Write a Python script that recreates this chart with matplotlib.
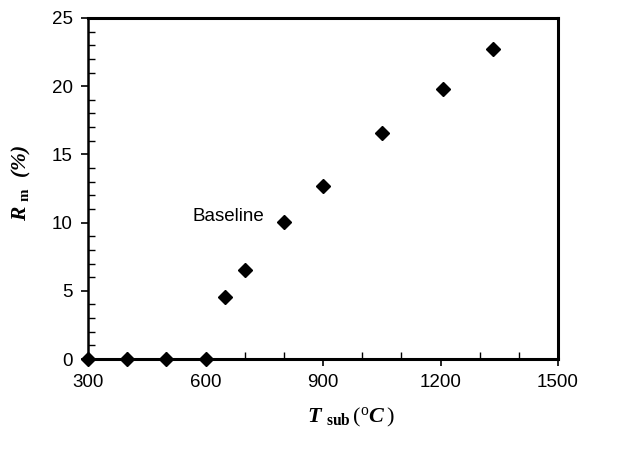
import matplotlib.pyplot as plt
from matplotlib.ticker import MultipleLocator

# data
t_sub = [300, 400, 500, 600, 650, 700, 800, 900, 1050, 1207, 1335]
r_m = [0, 0, 0, 0, 4.55, 6.55, 10.05, 12.65, 16.6, 19.8, 22.7]

plt.rcParams["font.family"] = "Liberation Sans"
plt.rcParams["mathtext.fontset"] = "custom"
plt.rcParams["mathtext.rm"] = "Liberation Serif"
plt.rcParams["mathtext.it"] = "Liberation Serif:italic"
plt.rcParams["mathtext.bf"] = "Liberation Serif:bold"
plt.rcParams["mathtext.bfit"] = "Liberation Serif:bold:italic"

fig = plt.figure(figsize=(6.36, 4.49), dpi=100)
ax = fig.add_axes([88 / 636, 90 / 449, 470 / 636, 341 / 449])

ax.plot(t_sub, r_m, linestyle="none", marker="D", markersize=7.5,
        color="black", clip_on=False, zorder=5)
ax.text(567, 10.45, "Baseline", fontsize=13.5, ha="left", va="center")

ax.set_xlim(300, 1500)
ax.set_ylim(0, 25)
ax.xaxis.set_major_locator(MultipleLocator(300))
ax.xaxis.set_minor_locator(MultipleLocator(100))
ax.yaxis.set_major_locator(MultipleLocator(5))
ax.yaxis.set_minor_locator(MultipleLocator(1))
ax.tick_params(which="major", direction="out", length=5, width=1.2, labelsize=13.5, pad=6)
ax.tick_params(which="minor", direction="in", length=5, width=1)

for side in ["top", "right", "bottom"]:
    ax.spines[side].set_linewidth(2.2)
ax.spines["left"].set_linewidth(1.8)

ax.set_xlabel(r"$\mathbfit{T}\ _{\mathbf{sub}}\,(^{\mathrm{o}}\mathbfit{C}\,)$", fontsize=16)
ax.xaxis.set_label_coords((351 - 88) / 470, -(406 - 359) / 341)
ax.set_ylabel(r"$\mathbfit{R}\ _{\mathbf{m}}\ \ \mathbfit{(\%)}$", fontsize=15.5)
ax.yaxis.set_label_coords(-(88 - 33) / 470, (359 - 183) / 341)

fig.savefig("out.png", dpi=100)
